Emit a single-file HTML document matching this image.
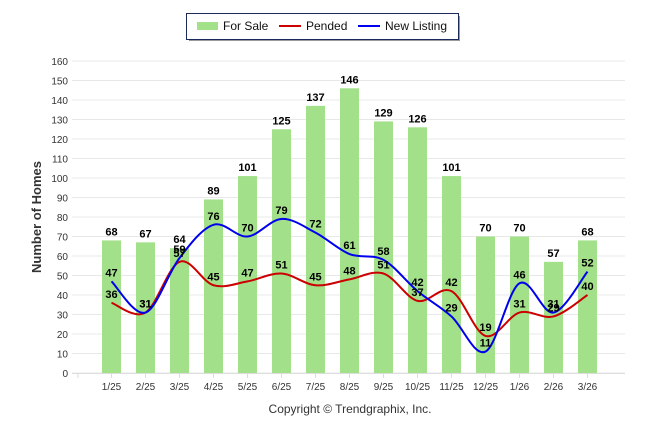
<!DOCTYPE html>
<html><head><meta charset="utf-8"><style>
body{margin:0;background:#fff;}
svg{display:block;font-family:"Liberation Sans",sans-serif;}
</style></head><body>
<svg id="c" width="646" height="434"></svg>
<script>
const categories=["1/25","2/25","3/25","4/25","5/25","6/25","7/25","8/25","9/25","10/25","11/25","12/25","1/26","2/26","3/26"];
const forSale=[68,67,64,89,101,125,137,146,129,126,101,70,70,57,68];
const pended=[36,31,57,45,47,51,45,48,51,37,42,19,31,29,40];
const newListing=[47,31,59,76,70,79,72,61,58,42,29,11,46,31,52];
const yTicks=[0,10,20,30,40,50,60,70,80,90,100,110,120,130,140,150,160];
const NS="http://www.w3.org/2000/svg";
const svg=document.getElementById('c');
function el(t,a,p){const e=document.createElementNS(NS,t);for(const k in a)e.setAttribute(k,a[k]);(p||svg).appendChild(e);return e;}
const x=i=>111.5+i*34;
const y=v=>373-v*(312/160);
// gridlines
yTicks.forEach(t=>{
 const g=el('line',{x1:72,x2:625,y1:y(t),y2:y(t),stroke:'#e8e8e8','stroke-width':1});
 
 const l=el('text',{x:68,y:y(t)+4,'text-anchor':'end','font-size':10,fill:'#333'});l.textContent=t;
 
});
el('line',{x1:72,x2:625,y1:373.5,y2:373.5,stroke:'#ddd'});
el('line',{x1:78,x2:78,y1:373,y2:378,stroke:'#ddd'});
categories.forEach((c,i)=>{
 el('line',{x1:x(i),x2:x(i),y1:373,y2:378,stroke:'#ddd'});
 const t=el('text',{x:x(i),y:390,'text-anchor':'middle','font-size':10,fill:'#333'});t.textContent=c;
 
});
// bars
forSale.forEach((v,i)=>{
 const r=el('rect',{x:x(i)-9.5,y:y(v),width:19,height:373-y(v),fill:'#a2e08a'});
 
});
function curve(d,color,name){
 const p=d.map((v,i)=>[x(i),y(v)]);
 let s='M'+p[0][0]+','+p[0][1];
 for(let i=0;i<p.length-1;i++){
  const p0=p[i-1]||p[i],p1=p[i],p2=p[i+1],p3=p[i+2]||p2,k=6;
  s+=` C${p1[0]+(p2[0]-p0[0])/k},${p1[1]+(p2[1]-p0[1])/k} ${p2[0]-(p3[0]-p1[0])/k},${p2[1]-(p3[1]-p1[1])/k} ${p2[0]},${p2[1]}`;
 }
 const l=el('path',{d:s,fill:'none',stroke:color,'stroke-width':2});
 
}
curve(pended,'#cc0000','pended-line');
curve(newListing,'#0000ee','new-listing-line');
function labels(d,dy,name){
 d.forEach((v,i)=>{
  const t=el('text',{x:x(i),y:y(v)+dy,'text-anchor':'middle','font-size':11,'font-weight':'bold',fill:'#000'});t.textContent=v;
  
 });
}
labels(forSale,-5,'for-sale-value');
labels(pended,-5,'pended-value');
labels(newListing,-5,'new-listing-value');
// axis title
const at=el('text',{x:0,y:0,transform:'translate(41,217) rotate(-90)','text-anchor':'middle','font-size':13,'font-weight':'bold',fill:'#333'});
at.textContent='Number of Homes';
const cp=el('text',{x:350,y:413,'text-anchor':'middle','font-size':12,fill:'#333'});
cp.textContent='Copyright © Trendgraphix, Inc.';
// legend
const lg=el('g',{});
el('rect',{x:189,y:16,width:271,height:25,fill:'#999'},lg);
el('rect',{x:186.5,y:13.5,width:272,height:26,fill:'#fff',stroke:'#1a2a5a','stroke-width':1},lg);
el('rect',{x:197,y:22,width:21,height:8,fill:'#a2e08a'},lg);
const t1=el('text',{x:223,y:30,'font-size':12,fill:'#111'},lg);t1.textContent='For Sale';
el('line',{x1:279,x2:301,y1:26,y2:26,stroke:'#cc0000','stroke-width':2},lg);
const t2=el('text',{x:306,y:30,'font-size':12,fill:'#111'},lg);t2.textContent='Pended';
el('line',{x1:358,x2:380,y1:26,y2:26,stroke:'#0000ee','stroke-width':2},lg);
const t3=el('text',{x:385,y:30,'font-size':12,fill:'#111'},lg);t3.textContent='New Listing';
</script>
</body></html>
